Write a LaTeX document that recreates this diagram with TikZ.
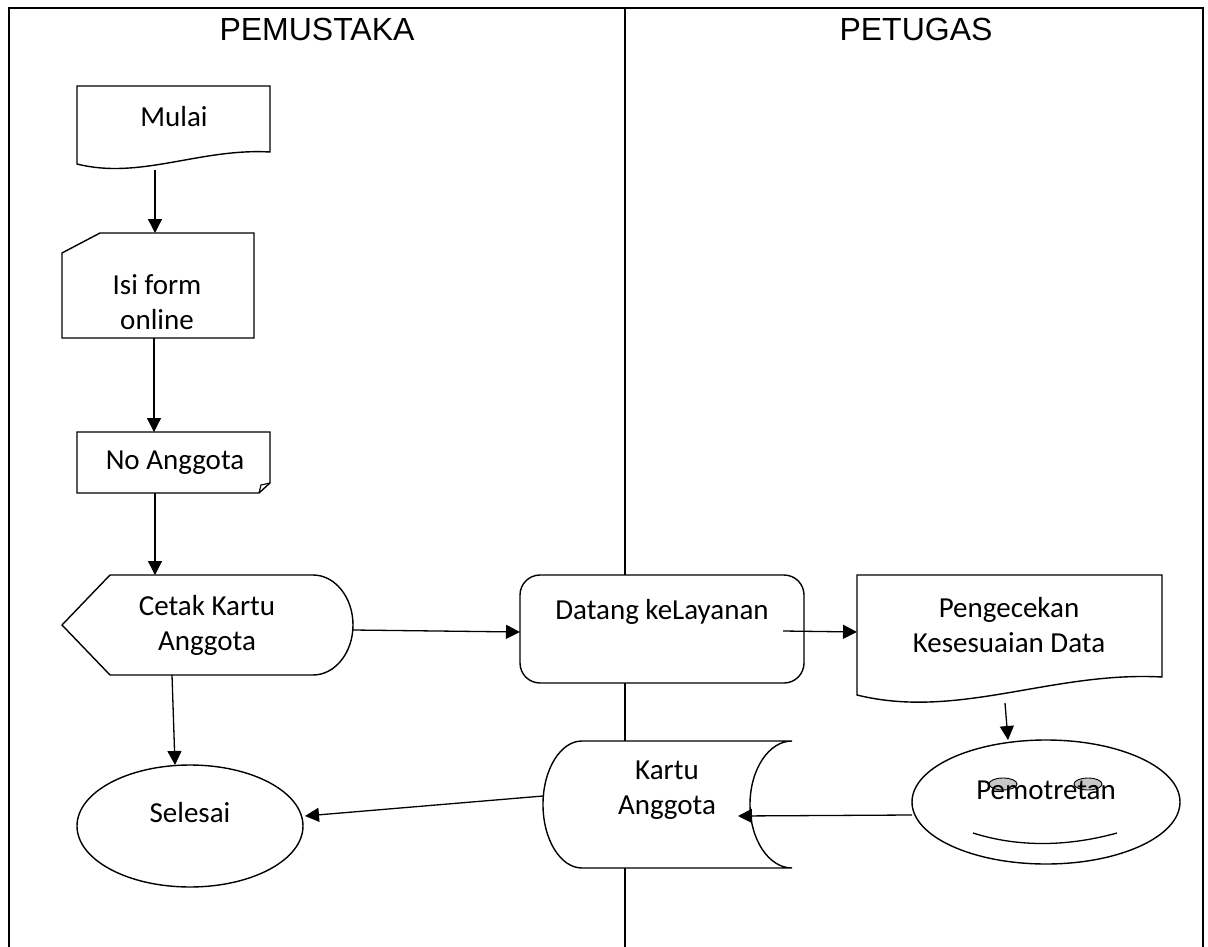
\documentclass[tikz,border=0pt]{standalone}
\usepackage{fontspec}
\setmainfont{Carlito}
\newfontfamily\hdrfont{Liberation Sans}
\usetikzlibrary{arrows.meta,shapes.geometric}
\begin{document}
\begin{tikzpicture}[x=1pt,y=-1pt,
  shp/.style={draw=black, fill=white, line width=1.4pt},
  txt/.style={font=\fontsize{29}{35}\selectfont, align=center, inner sep=0pt},
  hdr/.style={font=\hdrfont\fontsize{32}{37}\selectfont, inner sep=0pt},
  arr/.style={-{Triangle[length=14pt,width=14pt]}, line width=1.3pt},
  lane/.style={line width=1.4pt},
  eye/.style={draw=black, fill=black!22, line width=0.9pt}]
\useasboundingbox (0,0) rectangle (1208,947);
% swimlanes
\draw[lane] (9,947) -- (9,8) -- (1203,8) -- (1203,947);
\draw[lane] (625,8) -- (625,947);
\node[hdr] (h1) at (317,29) {PEMUSTAKA};
\node[hdr] (h2) at (916,29) {PETUGAS};
% Mulai (document)
\draw[shp] (77,86) -- (270,86) -- (270,152) .. controls (200,148) and (140,180) .. (77,164) -- cycle;
\node[txt] (mulai) at (174,117) {Mulai};
% Isi form online (manual input)
\draw[shp] (62,253) -- (100,233) -- (254,233) -- (254,338) -- (62,338) -- cycle;
\node[txt] (isi) at (157,302) {Isi form\\online};
% No Anggota (folded corner)
\draw[shp] (77,432) -- (270,432) -- (270,483) -- (259,493) -- (77,493) -- cycle;
\draw[line width=1.1pt] (259,493) -- (261,485) -- (270,483);
\node[txt] (noang) at (175,463) {No Anggota};
% Cetak Kartu Anggota (display)
\draw[shp] (62,625) -- (110,575) -- (313,575) arc[start angle=-90, end angle=90, x radius=40, y radius=50] -- (110,675) -- cycle;
\node[txt] (cetak) at (207,625) {Cetak Kartu\\Anggota};
% Datang keLayanan
\node[shp, rounded corners=20pt, minimum width=284pt, minimum height=108pt, inner sep=0pt] (datang) at (662,629) {};
\node[txt] (datangT) at (662,612) {Datang keLayanan};
% Pengecekan (document)
\draw[shp] (857,575) -- (1162,575) -- (1162,677) .. controls (1052,671) and (958,720) .. (857,695) -- cycle;
\node[txt] (cek) at (1009,625) {Pengecekan\\Kesesuaian Data};
% Pemotretan
\node[shp, ellipse, minimum width=268pt, minimum height=124pt, inner sep=0pt] (foto) at (1046,802) {};
\draw[eye] (1003,784) ellipse[x radius=14, y radius=6];
\draw[eye] (1088,784) ellipse[x radius=14, y radius=6];
\node[txt] (fotoT) at (1046,790) {Pemotretan};
\draw[line width=1.3pt] (973,833) .. controls (1020,848) and (1070,846) .. (1117,833);
% Kartu Anggota (stored data)
\draw[shp] (582,741) -- (792,741) arc[start angle=-90, end angle=-270, x radius=42, y radius=63.5] -- (582,868) arc[start angle=90, end angle=270, x radius=39, y radius=63.5] -- cycle;
\node[txt] (kartu) at (667,790) {Kartu\\Anggota};
% Selesai
\node[shp, ellipse, minimum width=226pt, minimum height=122pt, inner sep=0pt] (selesai) at (190,826) {};
\node[txt] (selesaiT) at (190,813) {Selesai};
% connector end points
\coordinate (mulaiS) at (155,170);
\coordinate (isiN) at (155,233);
\coordinate (isiS) at (154,338);
\coordinate (noN) at (154,432);
\coordinate (noS) at (155,493);
\coordinate (cetakN) at (155,575);
\coordinate (cetakE) at (353,630);
\coordinate (datangW) at (520,632);
\coordinate (cetakS) at (172,675);
\coordinate (selesaiN) at (175,765);
\coordinate (datangE) at (783,631);
\coordinate (cekW) at (857,632);
\coordinate (cekS) at (1005,703);
\coordinate (fotoN) at (1008,740);
\coordinate (fotoW) at (912,815);
\coordinate (kartuE) at (738,816);
\coordinate (kartuW) at (543,796);
\coordinate (selesaiE) at (305,816);
% connectors
\draw[arr] (mulaiS) -- (isiN);
\draw[arr] (isiS) -- (noN);
\draw[arr] (noS) -- (cetakN);
\draw[arr] (cetakE) -- (datangW);
\draw[arr] (cetakS) -- (selesaiN);
\draw[arr] (datangE) -- (cekW);
\draw[arr] (cekS) -- (fotoN);
\draw[arr] (fotoW) -- (kartuE);
\draw[arr] (kartuW) -- (selesaiE);
\end{tikzpicture}
\end{document}
